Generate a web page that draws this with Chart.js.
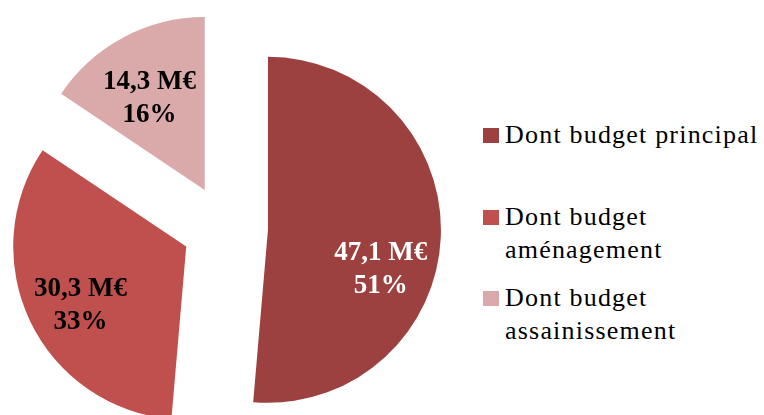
<!DOCTYPE html>
<html>
<head>
<meta charset="utf-8">
<script src="https://cdn.jsdelivr.net/npm/chart.js@4.4.1/dist/chart.umd.min.js"></script>
<style>
  html, body { margin: 0; padding: 0; background: #fff; }
  #wrap { position: relative; width: 764px; height: 415px; overflow: hidden; }
  #pie { position: absolute; left: 0; top: 0; }
  .legend-item {
    position: absolute;
    left: 505px;
    font-family: "Liberation Serif", "Times New Roman", serif;
    font-size: 26px;
    letter-spacing: 1.2px;
    line-height: 33px;
    color: #000;
    white-space: nowrap;
  }
  .legend-item .box {
    position: absolute;
    left: -22px;
    top: 10px;
    width: 16px;
    height: 15px;
  }
</style>
</head>
<body>
<div id="wrap">
  <canvas id="pie" width="450" height="415"></canvas>
  <div id="legend"></div>
</div>
<script>
const categories = ['Dont budget principal', 'Dont budget aménagement', 'Dont budget assainissement'];
const legendLines = [['Dont budget principal'], ['Dont budget', 'aménagement'], ['Dont budget', 'assainissement']];
const amounts = [47.1, 30.3, 14.3]; // M€
const sliceColors = ['#9d4040', '#c0504e', '#daa9a9'];
const labelColors = ['#ffffff', '#000000', '#000000'];

const total = amounts.reduce((a, b) => a + b, 0);

function formatAmount(v) {
    return v.toFixed(1).replace('.', ',') + ' M€';
}

// pull each slice out along its own bisector
const explodePlugin = {
    id: 'explode',
    afterDatasetUpdate(chart, args, opts) {
        const meta = chart.getDatasetMeta(args.index);
        meta.data.forEach(arc => {
            const mid = (arc.startAngle + arc.endAngle) / 2;
            arc.x += Math.cos(mid) * opts.distance;
            arc.y += Math.sin(mid) * opts.distance;
        });
    }
};

// two-line value / percent labels inside the slices
const sliceLabelPlugin = {
    id: 'sliceLabels',
    afterDatasetsDraw(chart, args, opts) {
        const ctx = chart.ctx;
        const meta = chart.getDatasetMeta(0);
        meta.data.forEach((arc, i) => {
            const ang = (arc.startAngle + arc.endAngle) / 2 + opts.angleShift[i] * Math.PI / 180;
            const r = arc.outerRadius * opts.radial[i];
            const x = arc.x + Math.cos(ang) * r;
            const y = arc.y + Math.sin(ang) * r;
            const pct = Math.round(amounts[i] / total * 100) + '%';
            ctx.save();
            ctx.font = 'bold 27px "Liberation Serif"';
            ctx.fillStyle = labelColors[i];
            ctx.textAlign = 'center';
            ctx.textBaseline = 'middle';
            ctx.fillText(formatAmount(amounts[i]), x, y - 16);
            ctx.fillText(pct, x, y + 17);
            ctx.restore();
        });
    }
};

const ctx = document.getElementById('pie').getContext('2d');
new Chart(ctx, {
    type: 'pie',
    data: {
        labels: categories,
        datasets: [{
            data: amounts,
            backgroundColor: sliceColors,
            borderWidth: 0,
            clip: false
        }]
    },
    options: {
        responsive: false,
        animation: false,
        radius: 173,
        layout: { padding: { top: 41 } },
        plugins: {
            legend: { display: false },
            tooltip: { enabled: false },
            explode: { distance: 43 },
            sliceLabels: {
                angleShift: [16.5, -3.5, -3],
                radial: [0.69, 0.70, 0.62]
            }
        }
    },
    plugins: [explodePlugin, sliceLabelPlugin]
});

// html legend, wrapped like the original
const legendTops = [118, 200, 281];
const legend = document.getElementById('legend');
legendLines.forEach((lines, i) => {
    const item = document.createElement('div');
    item.className = 'legend-item';
    item.style.top = legendTops[i] + 'px';
    const box = document.createElement('span');
    box.className = 'box';
    box.style.background = sliceColors[i];
    item.appendChild(box);
    lines.forEach((t, j) => {
        if (j > 0) item.appendChild(document.createElement('br'));
        item.appendChild(document.createTextNode(t));
    });
    legend.appendChild(item);
});
</script>
</body>
</html>
